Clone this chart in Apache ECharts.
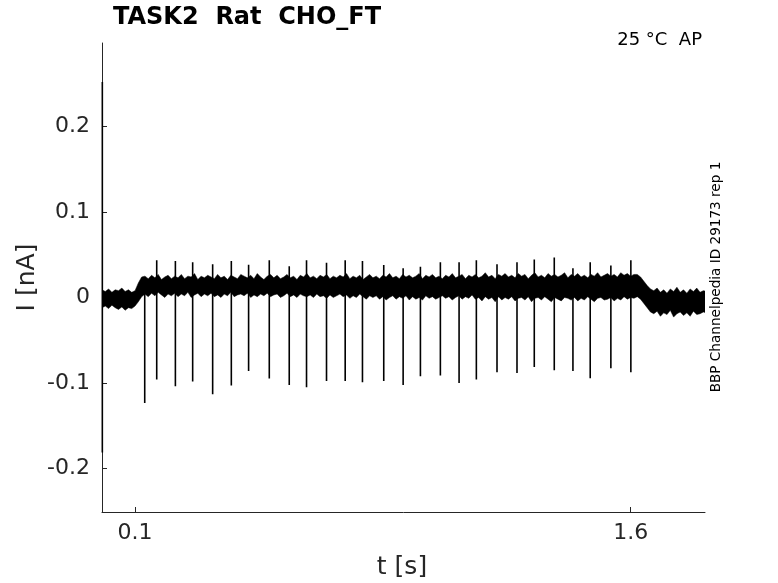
<!DOCTYPE html>
<html>
<head>
<meta charset="utf-8">
<script src="https://cdn.jsdelivr.net/npm/echarts@6/dist/echarts.min.js"></script>
<style>html,body{margin:0;padding:0;background:#fff;}#c{width:778px;height:583px;}</style>
</head>
<body>
<div id="c"></div>
<script>
// ---- data ----
const xTicks = [0.1, 1.6];
const yTicks = [-0.2, -0.1, 0, 0.1, 0.2];

// spikes: time [s], upper tip [nA], lower tip [nA]
const spikeT = [0.001, 0.1293, 0.1656, 0.2221, 0.2744, 0.3349, 0.3914, 0.4437, 0.5063, 0.5667, 0.6190,
  0.6795, 0.7360, 0.7883, 0.8527, 0.9114, 0.9637, 1.0241, 1.0807, 1.1330, 1.1955,
  1.2560, 1.3083, 1.3688, 1.4253, 1.4776, 1.5401, 1.6006];
const spikeUp = [0.2524, 0.020, 0.0437, 0.0426, 0.0414, 0.0390, 0.0426, 0.0382, 0.0437, 0.0367, 0.0437,
  0.0406, 0.0437, 0.0426, 0.0379, 0.0343, 0.0359, 0.0414, 0.0414, 0.0437, 0.0390,
  0.0414, 0.0445, 0.0469, 0.0343, 0.0414, 0.0375, 0.0437];
const spikeDown = [-0.1814, -0.1236, -0.0961, -0.1040, -0.0985, -0.1134, -0.1032, -0.0860, -0.0950, -0.1025, -0.1052,
  -0.0978, -0.0978, -0.0993, -0.0978, -0.1025, -0.0923, -0.0914, -0.1001, -0.0961, -0.0876,
  -0.0884, -0.0814, -0.0852, -0.0860, -0.0946, -0.0829, -0.0876];

// noise band envelope, sampled every 10 ms from t = 0
const envStart = 0, envStep = 0.01;
const envHi = [
  0.009,0.007,0.010,0.006,0.009,0.008,0.011,0.007,0.009,0.006,0.008,
  0.017,0.024,
  0.025,0.022,0.026,0.023,0.027,0.021,0.024,0.026,0.022,0.025,
  0.023,0.027,0.022,0.025,0.024,0.028,0.021,0.025,0.023,0.026,
  0.024,0.022,0.027,0.023,0.025,0.021,0.026,0.024,0.022,0.027,
  0.025,0.023,0.026,0.022,0.028,0.024,0.021,0.025,0.027,0.023,
  0.026,0.022,0.024,0.027,0.023,0.025,0.021,0.026,0.024,0.028,
  0.023,0.025,0.022,0.026,0.024,0.027,0.022,0.025,0.023,0.026,
  0.024,0.028,0.022,0.025,0.023,0.026,0.021,0.024,0.027,0.023,
  0.025,0.022,0.026,0.024,0.028,0.023,0.025,0.022,0.027,0.024,
  0.026,0.023,0.025,0.028,0.022,0.026,0.024,0.027,0.023,0.025,
  0.022,0.026,0.024,0.028,0.023,0.025,0.027,0.022,0.026,0.024,
  0.027,0.023,0.025,0.029,0.024,0.026,0.022,0.027,0.025,0.028,
  0.024,0.026,0.023,0.028,0.025,0.027,0.022,0.026,0.029,0.024,
  0.026,0.023,0.028,0.025,0.027,0.024,0.026,0.029,0.023,0.027,
  0.025,0.028,0.024,0.026,0.023,0.027,0.025,0.029,0.024,0.026,
  0.028,0.025,0.027,0.024,0.029,0.026,0.028,0.025,0.027,
  0.027,0.024,0.019,0.014,0.010,
  0.008,0.011,0.006,0.009,0.005,0.010,0.007,0.012,0.006,0.009,0.005,0.010,0.007,0.011,0.006,0.008,0.007
];
const envLo = [
  -0.012,-0.010,-0.013,-0.009,-0.012,-0.014,-0.011,-0.015,-0.012,-0.013,-0.010,
  -0.005,0.001,
  0.004,0.001,0.005,0.002,0.006,0.003,0.000,0.004,0.002,0.005,
  0.001,0.004,0.002,0.006,0.000,0.003,0.005,0.001,0.004,0.002,
  0.005,0.001,0.003,0.000,0.004,0.002,0.006,0.001,0.003,0.004,
  0.002,0.005,0.000,0.003,0.001,0.004,0.002,0.005,0.001,0.003,
  0.004,0.000,0.002,0.005,0.001,0.003,0.000,0.004,0.002,0.001,
  0.003,0.000,0.004,0.001,0.002,-0.001,0.003,0.000,0.002,0.004,
  0.001,0.003,-0.001,0.002,0.000,0.004,0.001,-0.002,0.002,0.000,
  0.002,-0.002,0.001,-0.003,0.000,0.002,-0.002,0.001,-0.001,0.002,
  -0.003,0.001,-0.002,0.000,-0.003,0.002,-0.001,0.001,-0.002,0.000,
  0.002,-0.001,0.001,-0.003,0.000,0.002,-0.002,0.001,-0.001,0.003,
  -0.002,0.000,-0.004,0.001,-0.002,0.000,-0.005,0.001,-0.003,0.000,
  -0.002,0.001,-0.004,-0.001,0.000,-0.003,0.001,-0.005,-0.001,0.000,
  -0.003,0.001,-0.002,-0.005,0.000,-0.002,-0.004,0.000,-0.001,-0.003,
  0.000,-0.004,-0.001,-0.003,0.001,-0.002,-0.005,-0.001,0.000,-0.003,
  -0.002,0.000,-0.004,-0.001,-0.003,0.001,-0.002,0.000,-0.001,
  0.001,-0.002,-0.007,-0.012,-0.017,
  -0.019,-0.016,-0.022,-0.018,-0.020,-0.015,-0.023,-0.019,-0.017,-0.021,-0.018,-0.022,-0.016,-0.020,-0.019,-0.017,-0.018
];

// ---- build chart ----
const envT = envHi.map((_, i) => +(envStart + i * envStep).toFixed(4));

const spikeData = [];
spikeT.forEach((t, i) => {
  spikeData.push([t, spikeUp[i]]);
  spikeData.push([t, spikeDown[i]]);
  spikeData.push([t, '-']);
});

const FONT = 'DejaVu Sans';
const AX = '#262626';
const fmt = v => String(Math.round(v * 10) / 10);

const chart = echarts.init(document.getElementById('c'), null, {renderer: 'canvas'});
chart.setOption({
  animation: false,
  backgroundColor: '#ffffff',
  grid: {left: 102, right: 73, top: 43, bottom: 71},
  xAxis: {
    type: 'value', min: 0, max: 1.825,
    splitLine: {show: false},
    axisLine: {show: true, onZero: false, lineStyle: {color: AX, width: 1}},
    axisTick: {show: true, inside: true, length: 5, customValues: xTicks, lineStyle: {color: AX}},
    axisLabel: {customValues: xTicks, formatter: fmt, fontSize: 22, fontFamily: FONT, color: AX, margin: 10}
  },
  yAxis: {
    type: 'value', min: -0.2512, max: 0.298,
    splitLine: {show: false},
    axisLine: {show: true, onZero: false, lineStyle: {color: AX, width: 1}},
    axisTick: {show: true, inside: true, length: 5, customValues: yTicks, lineStyle: {color: AX}},
    axisLabel: {customValues: yTicks, formatter: fmt, fontSize: 22, fontFamily: FONT, color: AX, margin: 12}
  },
  series: [
    {
      type: 'custom',
      clip: true,
      data: [[0, 0]],
      encode: {x: 0, y: 1},
      renderItem: function (params, api) {
        const pts = [];
        for (let i = 0; i < envT.length; i++) pts.push(api.coord([envT[i], envHi[i]]));
        for (let i = envT.length - 1; i >= 0; i--) pts.push(api.coord([envT[i], envLo[i]]));
        return {
          type: 'polygon',
          shape: {points: pts},
          style: {fill: '#000', stroke: '#000', lineWidth: 0.5}
        };
      },
      z: 2
    },
    {
      type: 'line',
      data: spikeData,
      symbol: 'none',
      connectNulls: false,
      lineStyle: {color: '#000', width: 1.6},
      clip: true,
      z: 3
    }
  ],
  graphic: [
    {type: 'text', x: 113, y: 18, style: {text: 'TASK2  Rat  CHO_FT', fontSize: 24, fontWeight: 'bold', fontFamily: FONT, fill: '#000', align: 'left', verticalAlign: 'middle'}},
    {type: 'text', x: 702, y: 40, style: {text: '25 °C  AP', fontSize: 18, fontFamily: FONT, fill: '#000', align: 'right', verticalAlign: 'middle'}},
    {type: 'text', x: 27.5, y: 277.5, rotation: Math.PI / 2, style: {text: 'I [nA]', fontSize: 25, fontFamily: FONT, fill: AX, align: 'center', verticalAlign: 'middle'}},
    {type: 'text', x: 402, y: 567, style: {text: 't [s]', fontSize: 25, fontFamily: FONT, fill: AX, align: 'center', verticalAlign: 'middle'}},
    {type: 'text', x: 716.7, y: 277, rotation: Math.PI / 2, style: {text: 'BBP Channelpedia ID 29173 rep 1', fontSize: 13.6, fontFamily: FONT, fill: '#000', align: 'center', verticalAlign: 'middle'}}
  ]
});
</script>
</body>
</html>
